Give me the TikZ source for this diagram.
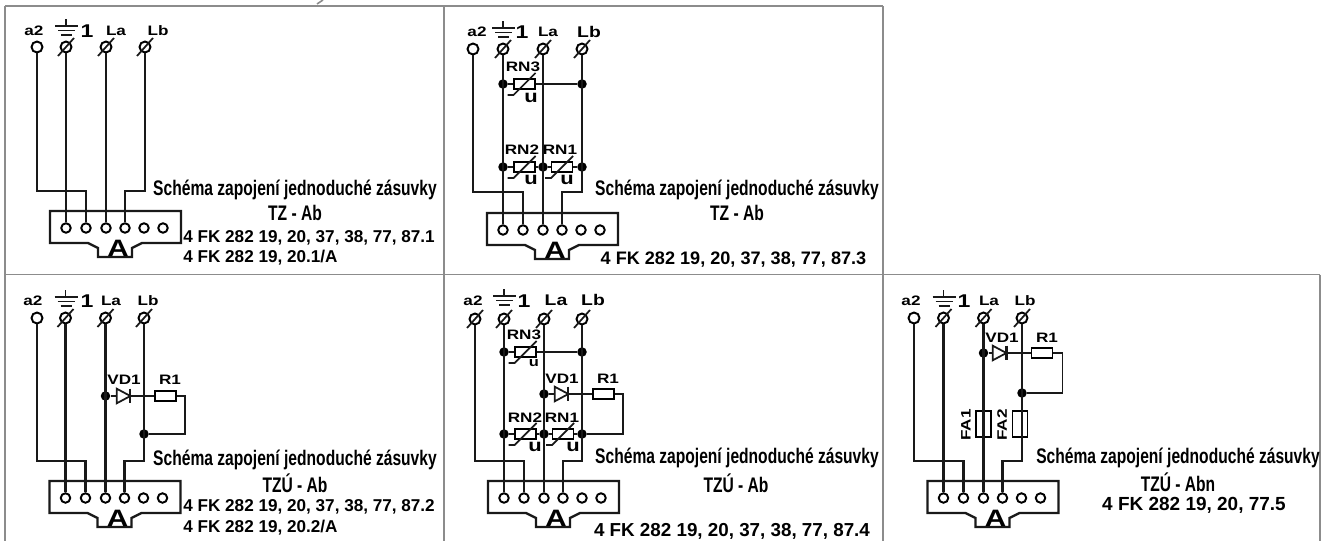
\documentclass[tikz,border=0pt]{standalone}
\usepackage{fontspec}
\setsansfont{Liberation Sans}
\newfontfamily\narrowfont[FakeStretch=0.74]{Liberation Sans}
\newfontfamily\widefont[FakeStretch=1.25]{Liberation Sans}
\usepackage{tikz}
\usetikzlibrary{calc}

\tikzset{
  x=0.02cm,y=-0.02cm,
  frame/.style={line width=0.9pt,black!45},
  wire/.style={line width=1.3pt,black!90},
  thinwire/.style={line width=1pt,black!90},
  term/.style={circle,draw,line width=1.1pt,fill=white,inner sep=0pt,minimum size=0.22cm},
  pin/.style={term,minimum size=0.19cm},
  dot/.style={circle,fill=black,inner sep=0pt,minimum size=0.19cm},
  box/.style={rectangle,draw,line width=1pt,fill=white,inner sep=0pt,minimum width=0.42cm,minimum height=0.2cm},
  fuse/.style={rectangle,draw,line width=1pt,inner sep=0pt,minimum width=0.3cm,minimum height=0.52cm},
  gap/.style={rectangle,inner sep=0pt,minimum width=0.26cm,minimum height=0.28cm},
  tag/.style={inner sep=0pt,font=\widefont\bfseries\fontsize{7.8}{9}\selectfont},
  big/.style={inner sep=0pt,font=\widefont\bfseries\fontsize{8.8}{10}\selectfont},
  one/.style={inner sep=0pt,font=\widefont\bfseries\fontsize{10.5}{11}\selectfont},
  head/.style={inner sep=0pt,font=\narrowfont\bfseries\fontsize{12}{14}\selectfont},
  code/.style={inner sep=0pt,font=\sffamily\bfseries\fontsize{9.75}{11}\selectfont},
  ubig/.style={inner sep=0pt,font=\widefont\bfseries\fontsize{10}{10}\selectfont},
  usmall/.style={inner sep=0pt,font=\widefont\bfseries\fontsize{7.5}{8}\selectfont},
}

% screw terminal: name, position
\newcommand{\screwterm}[2]{
  \node[term] (#1) at (#2) {};
  \draw[thinwire] (#1.center) +(-8,9) -- +(8,-9);
}
% earth mark: x, top y
\newcommand{\earth}[2]{
  \draw[thinwire] (#1,#2) -- ++(0,8);
  \draw[thinwire] (#1-11,#2+7) -- ++(23,0);
  \draw[thinwire] (#1-8,#2+11.5) -- ++(17,0);
  \draw[thinwire] (#1-5,#2+16) -- ++(11,0);
}
% varistor: name, position, position of u, style of u
\newcommand{\varistor}[4]{
  \node[box] (#1) at (#2) {};
  \draw[thinwire] (#1.center) +(-17,11) -- +(-11,11) -- +(11,-11);
  \node[#4] (#1u) at (#3) {u};
}
% diode: name, position
\newcommand{\diode}[2]{
  \node[gap] (#1) at (#2) {};
  \draw[thinwire] (#1.north west) -- (#1.east) -- (#1.south west) -- cycle;
  \draw[wire] (#1.north east) -- (#1.south east);
}
% connector block A: left, top
\newcommand{\socket}[2]{
  \begin{scope}[shift={(#1,#2)}]
    \draw[wire] (0,0) -- (131,0) -- (131,32) -- (92,32) -- (82,37) -- (82,46)
      -- (48,46) -- (48,37) -- (38,32) -- (0,32) -- cycle;
    \foreach \n/\px in {1/16,2/36,3/56,4/75,5/94,6/113}
      \node[pin] (p\n) at (\px,17) {};
    \node[inner sep=0pt,font=\widefont\bfseries\fontsize{13.5}{14}\selectfont] (blk) at (68,37) {A};
  \end{scope}
}

\begin{document}
\begin{tikzpicture}
\useasboundingbox (0,0) rectangle (1332,541);

% Frames
\draw[frame] (5,6) -- (883,6);
\draw[frame] (5,274.5) -- (1320,274.5);
\draw[frame] (5,6) -- (5,541);
\draw[frame] (444,6) -- (444,541);
\draw[frame] (883,6) -- (883,541);
\draw[frame] (1320,274.5) -- (1320,541);
\draw[frame] (323,0) -- (317,4);

% First socket
\begin{scope}[name prefix=a-]
\socket{50}{211}
\node[term] (a2) at (37,47) {};
\screwterm{pe}{66,47}
\screwterm{la}{106,47}
\screwterm{lb}{145,47}
\earth{66}{19}
\node[tag] (ta2) at (34,31) {a2};
\node[one] (t1) at (87,31) {1};
\node[tag] (tla) at (116,31) {La};
\node[tag] (tlb) at (158,31) {Lb};

\draw[wire] (a2) -- ++(0,144) -| (p2);
\draw[wire] (pe) -- (p1);
\draw[wire] (la) -- (p3);
\draw[wire] (lb) -- ++(0,144) -| (p4);

\node[head] (cap) at (295,190) {Schéma zapojení jednoduché zásuvky};
\node[head] (typ) at (295,213) {TZ - Ab};
\node[code,anchor=west] (c1) at (183,238) {4 FK 282 19, 20, 37, 38, 77, 87.1};
\node[code,anchor=west] (c2) at (183,258) {4 FK 282 19, 20.1/A};
\end{scope}

% Second socket
\begin{scope}[name prefix=b-]
\socket{487}{213}
\node[term] (a2) at (473,49) {};
\screwterm{pe}{503,49}
\screwterm{la}{543,49}
\screwterm{lb}{582,49}
\earth{503}{21}
\node[tag] (ta2) at (477,32) {a2};
\node[one] (t1) at (522,32) {1};
\node[tag] (tla) at (548,32) {La};
\node[big] (tlb) at (589,32) {Lb};

\node[dot] (j1) at (503,84) {};
\node[dot] (j2) at (582,84) {};
\node[dot] (j3) at (503,167) {};
\node[dot] (j4) at (543,167) {};
\node[dot] (j5) at (582,167) {};
\varistor{rn3}{524.5,84}{531,98}{ubig}
\varistor{rn2}{524.5,167}{531,180}{ubig}
\varistor{rn1}{562,167}{567,180}{ubig}
\node[tag] (trn3) at (523,67) {RN3};
\node[tag] (trn2) at (522,150) {RN2};
\node[tag] (trn1) at (560,150) {RN1};

\draw[wire] (a2) -- ++(0,143) -| (p2);
\draw[wire] (pe) -- (p1);
\draw[wire] (la) -- (p3);
\draw[wire] (lb) -- ++(0,143) -| (p4);
\draw[thinwire] (j1) -- (rn3) -- (j2);
\draw[thinwire] (j3) -- (rn2) -- (j4) -- (rn1) -- (j5);

\node[head] (cap) at (737,190) {Schéma zapojení jednoduché zásuvky};
\node[head] (typ) at (737,213) {TZ - Ab};
\node[code,font=\sffamily\bfseries\fontsize{10.3}{11}\selectfont] (c1) at (733.5,260) {4 FK 282 19, 20, 37, 38, 77, 87.3};
\end{scope}

% Third socket
\begin{scope}[name prefix=c-]
\socket{49.5}{481}
\node[term] (a2) at (37,318) {};
\screwterm{pe}{65.5,318}
\screwterm{la}{105.5,318}
\screwterm{lb}{144,318}
\earth{65.5}{290}
\node[tag] (ta2) at (33,301) {a2};
\node[one] (t1) at (87,301) {1};
\node[tag] (tla) at (111,301) {La};
\node[tag] (tlb) at (148,301) {Lb};

\node[dot] (j1) at (105.5,396) {};
\node[dot] (j2) at (144,434) {};
\diode{vd}{123.5,396}
\node[box] (r1) at (165.5,396) {};
\node[tag] (tvd) at (124,380) {VD1};
\node[tag] (tr1) at (170,380) {R1};

\draw[wire] (a2) -- ++(0,143) -| (p2);
\draw[wire] (pe) -- (p1);
\draw[wire] (la) -- (p3);
\draw[wire] (lb) -- ++(0,143) -| (p4);
\draw[thinwire] (j1) -- (vd);
\draw[thinwire] (vd) -- (r1);
\draw[thinwire] (r1.east) -- ++(8,0) |- (j2);

\node[head] (cap) at (295,460) {Schéma zapojení jednoduché zásuvky};
\node[head] (typ) at (295,483) {TZÚ - Ab};
\node[code,anchor=west] (c1) at (183,507) {4 FK 282 19, 20, 37, 38, 77, 87.2};
\node[code,anchor=west] (c2) at (183,528) {4 FK 282 19, 20.2/A};
\end{scope}

% Fourth socket
\begin{scope}[name prefix=d-]
\socket{488}{481}
\screwterm{a2}{475,319}
\screwterm{pe}{504,319}
\screwterm{la}{544,319}
\screwterm{lb}{582,319}
\earth{504}{289}
\node[tag] (ta2) at (473,301) {a2};
\node[one] (t1) at (524,301) {1};
\node[big] (tla) at (556,300) {La};
\node[big] (tlb) at (593,300) {Lb};

\node[dot] (j1) at (504,352) {};
\node[dot] (j2) at (582,352) {};
\node[dot] (j3) at (544,394) {};
\node[dot] (j4) at (504,434) {};
\node[dot] (j5) at (544,434) {};
\node[dot] (j6) at (582,434) {};
\varistor{rn3}{525.5,352}{534,363}{usmall}
\varistor{rn2}{525.5,434}{535,447}{ubig}
\varistor{rn1}{563,434}{573,447}{ubig}
\diode{vd}{561.5,394}
\node[box] (r1) at (603.5,394) {};
\node[tag] (trn3) at (524,335) {RN3};
\node[tag] (trn2) at (525,418) {RN2};
\node[tag] (trn1) at (562,418) {RN1};
\node[tag] (tvd) at (562,379) {VD1};
\node[tag] (tr1) at (608,379) {R1};

\draw[wire] (a2) -- ++(0,142) -| (p2);
\draw[wire] (pe) -- (p1);
\draw[wire] (la) -- (p3);
\draw[wire] (lb) -- ++(0,142) -| (p4);
\draw[thinwire] (j1) -- (rn3) -- (j2);
\draw[thinwire] (j4) -- (rn2) -- (j5) -- (rn1) -- (j6);
\draw[thinwire] (j3) -- (vd);
\draw[thinwire] (vd) -- (r1);
\draw[thinwire] (r1.east) -- ++(8,0) |- (j6);

\node[head] (cap) at (737,458) {Schéma zapojení jednoduché zásuvky};
\node[head] (typ) at (736,483) {TZÚ - Ab};
\node[code,font=\sffamily\bfseries\fontsize{10.7}{12}\selectfont] (c1) at (732,531) {4 FK 282 19, 20, 37, 38, 77, 87.4};
\end{scope}

% Fifth socket
\begin{scope}[name prefix=e-]
\socket{927.5}{481}
\node[term] (a2) at (914,318) {};
\screwterm{pe}{943.5,318}
\screwterm{la}{983.5,318}
\screwterm{lb}{1022,318}
\earth{943.5}{290}
\node[tag] (ta2) at (911,301) {a2};
\node[one] (t1) at (964,301) {1};
\node[tag] (tla) at (989,301) {La};
\node[tag] (tlb) at (1025,301) {Lb};

\node[dot] (j1) at (983.5,353) {};
\node[dot] (j2) at (1022,393) {};
\diode{vd}{999.5,353}
\node[box] (r1) at (1042,353) {};
\node[fuse] (fa1) at (983.5,424) {};
\node[fuse] (fa2) at (1020,424) {};
\node[tag] (tvd) at (1002,338) {VD1};
\node[tag] (tr1) at (1047,338) {R1};
\node[tag,rotate=90] (tfa1) at (966,425) {FA1};
\node[tag,rotate=90] (tfa2) at (1002,425) {FA2};

\draw[wire] (a2) -- ++(0,143) -| (p2);
\draw[wire] (pe) -- (p1);
\draw[wire] (la) -- (p3);
\draw[wire] (lb) -- ++(0,143) -| (p4);
\draw[thinwire] (j1) -- (vd);
\draw[thinwire] (vd) -- (r1);
\draw[thinwire] (r1.east) -- ++(9,0) |- (j2);

\node[head] (cap) at (1178,458) {Schéma zapojení jednoduché zásuvky};
\node[head] (typ) at (1178,482) {TZÚ - Abn};
\node[code,font=\sffamily\bfseries\fontsize{10.8}{12}\selectfont] (c1) at (1194,505) {4 FK 282 19, 20, 77.5};
\end{scope}
\end{tikzpicture}
\end{document}
